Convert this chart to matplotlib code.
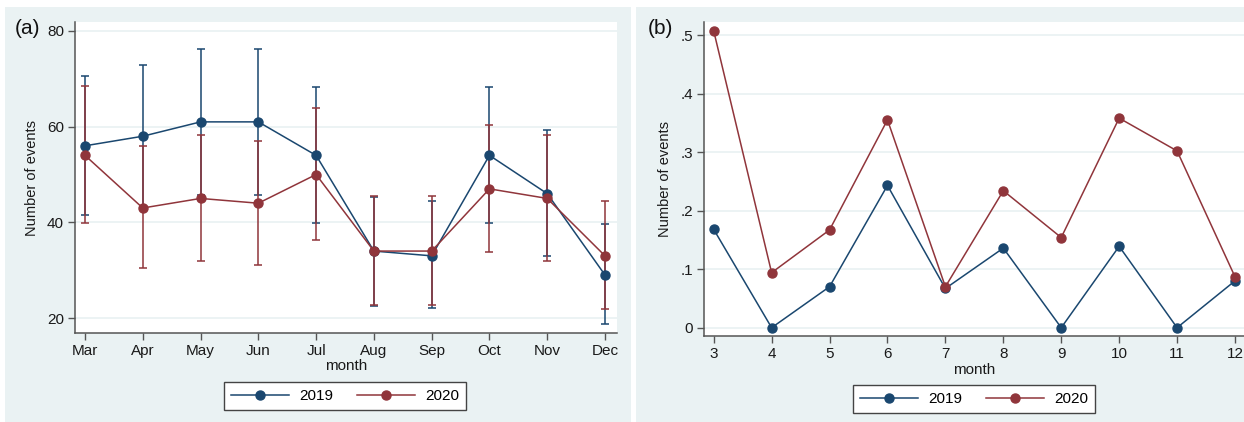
import matplotlib
matplotlib.use("Agg")
import matplotlib.pyplot as plt
from matplotlib.patches import Rectangle
import numpy as np

plt.rcParams['font.family'] = ['Liberation Sans', 'DejaVu Sans']

# ---- data panel (a) ----
months_a = ["Mar", "Apr", "May", "Jun", "Jul", "Aug", "Sep", "Oct", "Nov", "Dec"]
mean_2019 = [56, 58, 61, 61, 54, 34, 33, 54, 46, 29]
lo_2019 = [41.5, 43.0, 45.8, 45.8, 39.8, 22.6, 22.1, 39.8, 32.9, 18.7]
hi_2019 = [70.6, 72.9, 76.2, 76.2, 68.3, 45.4, 44.4, 68.3, 59.4, 39.6]
mean_2020 = [54, 43, 45, 44, 50, 34, 34, 47, 45, 33]
lo_2020 = [39.8, 30.4, 31.9, 31.1, 36.3, 22.8, 22.8, 33.7, 31.9, 21.9]
hi_2020 = [68.4, 56.0, 58.2, 57.0, 63.8, 45.5, 45.5, 60.4, 58.2, 44.4]
yticks_a = [20, 40, 60, 80]

# ---- data panel (b) ----
months_b = [3, 4, 5, 6, 7, 8, 9, 10, 11, 12]
rate_2019 = [0.168, 0.0, 0.070, 0.243, 0.067, 0.136, 0.0, 0.139, 0.0, 0.080]
rate_2020 = [0.507, 0.094, 0.167, 0.355, 0.070, 0.234, 0.154, 0.358, 0.302, 0.087]
yticks_b = [0, 0.1, 0.2, 0.3, 0.4, 0.5]
yticklabels_b = ["0", ".1", ".2", ".3", ".4", ".5"]

series_labels = ["2019", "2020"]
C_BLUE = "#1a476f"
C_RED = "#90353b"
BG = "#eaf2f3"
GRID = "#eaf2f3"

W, H = 1244, 422
fig = plt.figure(figsize=(W / 100, H / 100), dpi=100)
fig.patch.set_facecolor("white")

def px_rect(x0, y0, x1, y1):
    # pixel coords (top-based) -> figure fraction
    return [x0 / W, 1 - y1 / H, (x1 - x0) / W, (y1 - y0) / H]

# panel backgrounds
for (x0, x1) in [(5, 631), (636, 1244)]:
    fig.patches.append(Rectangle((x0 / W, 0), (x1 - x0) / W, 1 - 7 / H,
                                 transform=fig.transFigure, facecolor=BG,
                                 edgecolor="none", zorder=-10))

FS = 11
def style_axes(ax):
    ax.set_facecolor("white")
    for s in ["top", "right"]:
        ax.spines[s].set_visible(False)
    for s in ["left", "bottom"]:
        ax.spines[s].set_color("#555555")
        ax.spines[s].set_linewidth(1.1)
    ax.tick_params(axis="both", colors="#555555", labelcolor="#1a1a1a",
                   labelsize=FS, length=5, width=1.0, pad=3)
    ax.grid(axis="y", color=GRID, linewidth=1.3)
    ax.grid(axis="x", visible=False)
    ax.set_axisbelow(True)

# ---- panel (a) ----
axa = fig.add_axes(px_rect(75, 22, 617, 333))
style_axes(axa)
xa = np.arange(len(months_a))
for mean, lo, hi, col, lab in [(mean_2019, lo_2019, hi_2019, C_BLUE, series_labels[0]),
                               (mean_2020, lo_2020, hi_2020, C_RED, series_labels[1])]:
    mean = np.array(mean); lo = np.array(lo); hi = np.array(hi)
    axa.errorbar(xa, mean, yerr=[mean - lo, hi - mean], fmt="none",
                 ecolor=col, elinewidth=1.1, capsize=3, capthick=1.1, zorder=2)
    axa.plot(xa, mean, color=col, linewidth=1.1, marker="o", markersize=6.5,
             label=lab, zorder=3)
axa.set_xlim(-10 / 57.8, 9 + 12 / 57.8)
axa.set_ylim(20 - 15 / 4.8, 80 + 9 / 4.8)
axa.set_xticks(xa)
axa.set_xticklabels(months_a)
axa.set_yticks(yticks_a)
axa.set_ylabel("Number of events", fontsize=10.5, color="#1a1a1a", labelpad=6)
axa.set_xlabel("month", fontsize=FS, color="#1a1a1a", labelpad=1)
axa.legend(loc="center", bbox_to_anchor=(345 / W, 1 - 396 / H),
           bbox_transform=fig.transFigure, ncol=2, fontsize=FS,
           frameon=True, fancybox=False, edgecolor="#444444",
           handlelength=3.8, handletextpad=0.65, columnspacing=1.6,
           borderpad=0.45, framealpha=1)
fig.text(15 / W, 1 - 28 / H, "(a)", fontsize=15, va="center", ha="left",
         color="#111111")

# ---- panel (b) ----
axb = fig.add_axes(px_rect(704, 22, 1244, 336))
style_axes(axb)
for vals, col, lab in [(rate_2019, C_BLUE, series_labels[0]),
                       (rate_2020, C_RED, series_labels[1])]:
    axb.plot(months_b, vals, color=col, linewidth=1.1, marker="o",
             markersize=6.5, label=lab, zorder=3)
axb.set_xlim(3 - 9.7 / 57.9, 12 + 9 / 57.9)
axb.set_ylim(0 - 8.3 / 585.4, 0.5 + 13 / 585.4)
axb.set_xticks(months_b)
axb.set_yticks(yticks_b)
axb.set_yticklabels(yticklabels_b)
axb.set_ylabel("Number of events", fontsize=10.5, color="#1a1a1a", labelpad=6)
axb.set_xlabel("month", fontsize=FS, color="#1a1a1a", labelpad=1)
axb.legend(loc="center", bbox_to_anchor=(974 / W, 1 - 399 / H),
           bbox_transform=fig.transFigure, ncol=2, fontsize=FS,
           frameon=True, fancybox=False, edgecolor="#444444",
           handlelength=3.8, handletextpad=0.65, columnspacing=1.6,
           borderpad=0.45, framealpha=1)
fig.text(648 / W, 1 - 28 / H, "(b)", fontsize=15, va="center", ha="left",
         color="#111111")

fig.savefig("out.png", dpi=100, facecolor=fig.get_facecolor())
